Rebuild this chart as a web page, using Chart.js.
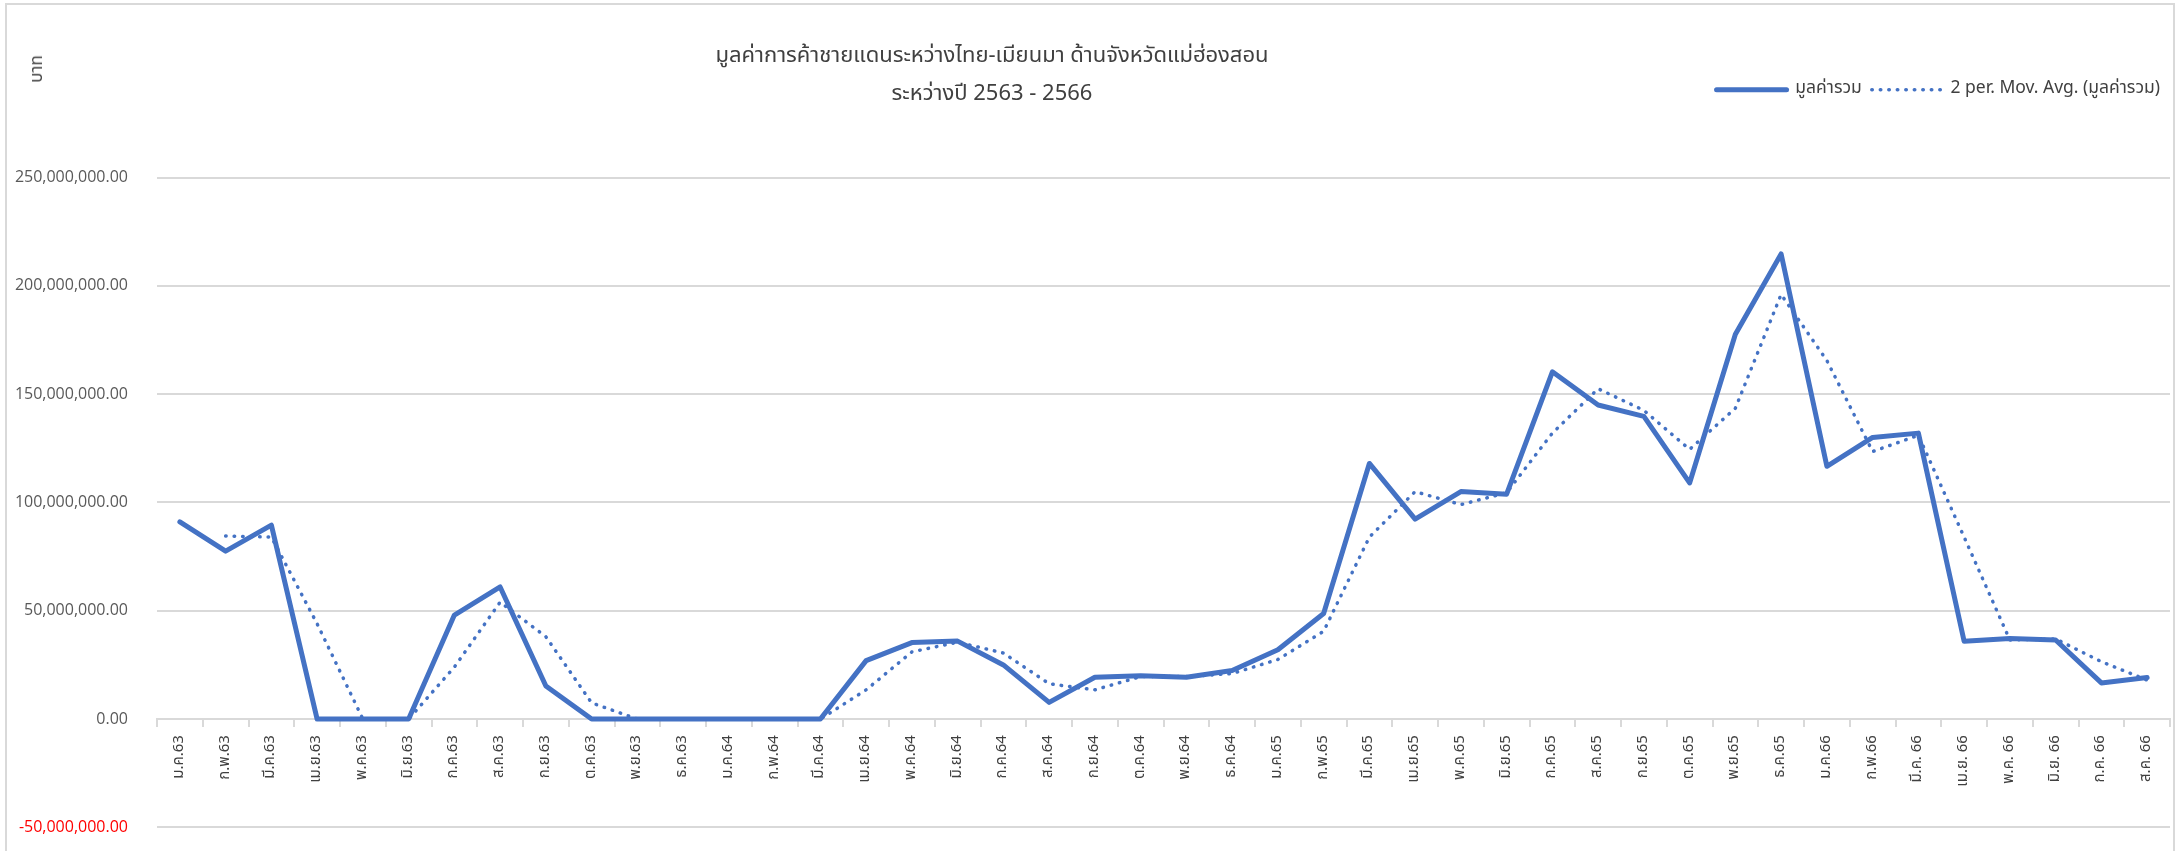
<!DOCTYPE html>
<html>
<head>
<meta charset="utf-8">
<script src="https://cdn.jsdelivr.net/npm/chart.js"></script>
<style>
  body { margin: 0; background: #fff; }
  #wrap { position: relative; width: 2178px; height: 851px; overflow: hidden; background: #fff; }
  #frame { position: absolute; left: 5px; top: 3px; width: 2170px; height: 900px; border: 2px solid #d9d9d9; box-sizing: border-box; }
  #title { position: absolute; left: 492px; top: 37px; width: 1000px; text-align: center; font-size: 22px; line-height: 38px; color: #404040;
           font-family: "Noto Sans Thai", "Leelawadee UI", Tahoma, "Noto Sans", sans-serif; }
  #unit { position: absolute; left: 37px; top: 69px; transform: translate(-50%, -50%) rotate(-90deg); font-size: 17px; color: #404040;
          font-family: "Noto Sans Thai", "Leelawadee UI", Tahoma, "Noto Sans", sans-serif; white-space: nowrap; }
  canvas { position: absolute; left: 0; top: 0; }
</style>
</head>
<body>
<div id="wrap">
  <div id="frame"></div>
  <!-- taller than the window; the part under the -50M gridline is clipped by #wrap -->
  <canvas id="chart" width="2178" height="866"></canvas>
  <div id="title">มูลค่าการค้าชายแดนระหว่างไทย-เมียนมา ด้านจังหวัดแม่ฮ่องสอน<br>ระหว่างปี 2563 - 2566</div>
  <div id="unit">บาท</div>
</div>
<script>
// month labels (Thai short month + Buddhist year)
const months = [
  'ม.ค.63', 'ก.พ.63', 'มี.ค.63', 'เม.ย.63', 'พ.ค.63', 'มิ.ย.63', 'ก.ค.63', 'ส.ค.63', 'ก.ย.63', 'ต.ค.63', 'พ.ย.63', 'ธ.ค.63',
  'ม.ค.64', 'ก.พ.64', 'มี.ค.64', 'เม.ย.64', 'พ.ค.64', 'มิ.ย.64', 'ก.ค.64', 'ส.ค.64', 'ก.ย.64', 'ต.ค.64', 'พ.ย.64', 'ธ.ค.64',
  'ม.ค.65', 'ก.พ.65', 'มี.ค.65', 'เม.ย.65', 'พ.ค.65', 'มิ.ย.65', 'ก.ค.65', 'ส.ค.65', 'ก.ย.65', 'ต.ค.65', 'พ.ย.65', 'ธ.ค.65',
  'ม.ค.66', 'ก.พ.66', 'มี.ค. 66', 'เม.ย. 66', 'พ.ค. 66', 'มิ.ย. 66', 'ก.ค. 66', 'ส.ค. 66'
]

// มูลค่ารวม (baht)
const totalValue = [
  91000000, 77500000, 89500000, 0, 0, 0, 48000000, 61000000, 15300000, 0, 0, 0,
  0, 0, 0, 27000000, 35300000, 36000000, 25000000, 7700000, 19300000, 20000000, 19300000, 22400000,
  32000000, 48700000, 118000000, 92300000, 105000000, 103800000, 160300000, 145000000, 139700000, 109000000, 177600000, 214700000,
  116700000, 130000000, 132000000, 35900000, 37200000, 36500000, 16700000, 19200000
]

// 2 per. Mov. Avg. trendline
const movingAvg = [
  null, 84500000, 84000000, 44000000, 0, 0, 24000000, 54000000, 38000000, 7500000, 0, 0,
  0, 0, 0, 13500000, 31000000, 35500000, 30500000, 16300000, 13500000, 19600000, 19600000, 21000000,
  27500000, 40500000, 84000000, 105000000, 99000000, 104500000, 132000000, 152500000, 142500000, 124500000, 143500000, 196000000,
  165500000, 123500000, 131000000, 84000000, 36500000, 37000000, 26500000, 18000000
]

const yTicks = { min: -50000000, max: 250000000, step: 50000000 }

const thaiFont = '"Noto Sans Thai", "Leelawadee UI", Tahoma, "Noto Sans", sans-serif'
const numFont = '"Open Sans", "Noto Sans", sans-serif'
const gridColor = '#d9d9d9'
const lineColor = '#4472C4'

// push the plot area down below the title/legend band
const legendSpacer = {
  id: 'legendSpacer',
  beforeInit(chart) {
    const fit = chart.legend.fit
    chart.legend.fit = function () {
      fit.bind(chart.legend)()
      this.height += 69
    }
  }
}

new Chart(document.getElementById('chart'), {
  type: 'line',
  data: {
    labels: months,
    datasets: [{
      label: 'มูลค่ารวม',
      data: totalValue,
      borderColor: lineColor,
      backgroundColor: lineColor,
      borderWidth: 5,
      borderCapStyle: 'round',
      borderJoinStyle: 'round',
      pointRadius: 0,
      tension: 0
    }, {
      label: '2 per. Mov. Avg. (มูลค่ารวม)',
      data: movingAvg,
      borderColor: lineColor,
      backgroundColor: lineColor,
      borderWidth: 3.5,
      borderDash: [0.5, 8],
      borderCapStyle: 'round',
      pointRadius: 0,
      tension: 0
    }]
  },
  options: {
    responsive: false,
    animation: false,
    layout: { padding: { top: 71, left: 0, right: 8, bottom: 10 } },
    plugins: {
      title: { display: false },
      tooltip: { enabled: false },
      legend: {
        position: 'top',
        align: 'end',
        labels: {
          usePointStyle: true,
          pointStyleWidth: 70,
          padding: 10,
          color: '#404040',
          font: { family: thaiFont, size: 17.5 },
          // line samples taken from the dataset styles
          generateLabels: (chart) => chart.data.datasets.map((ds, i) => ({
            text: ds.label,
            datasetIndex: i,
            hidden: !chart.isDatasetVisible(i),
            fillStyle: ds.borderColor,
            strokeStyle: ds.borderColor,
            lineWidth: ds.borderWidth,
            lineDash: ds.borderDash || [],
            lineCap: 'round',
            pointStyle: 'line',
            fontColor: '#404040'
          }))
        }
      }
    },
    scales: {
      x: {
        position: { y: 0 },
        offset: true,
        grid: { drawOnChartArea: false, drawTicks: true, tickLength: 7, offset: true, color: gridColor, lineWidth: 2 },
        border: { color: gridColor, width: 2 },
        ticks: {
          autoSkip: false,
          minRotation: 90,
          maxRotation: 90,
          padding: 9,
          color: '#404040',
          font: { family: thaiFont, size: 15 }
        }
      },
      y: {
        min: yTicks.min,
        max: yTicks.max,
        afterFit(scale) { scale.width = 157 },
        grid: { color: gridColor, lineWidth: 2, drawTicks: false },
        border: { display: false },
        ticks: {
          stepSize: yTicks.step,
          padding: 29,
          font: { family: numFont, size: 16 },
          color: (ctx) => ctx.tick && ctx.tick.value < 0 ? '#ff0000' : '#595959',
          callback: (value) => Number(value).toLocaleString('en-US', { minimumFractionDigits: 2, maximumFractionDigits: 2 })
        }
      }
    }
  },
  plugins: [legendSpacer]
})
</script>
</body>
</html>
